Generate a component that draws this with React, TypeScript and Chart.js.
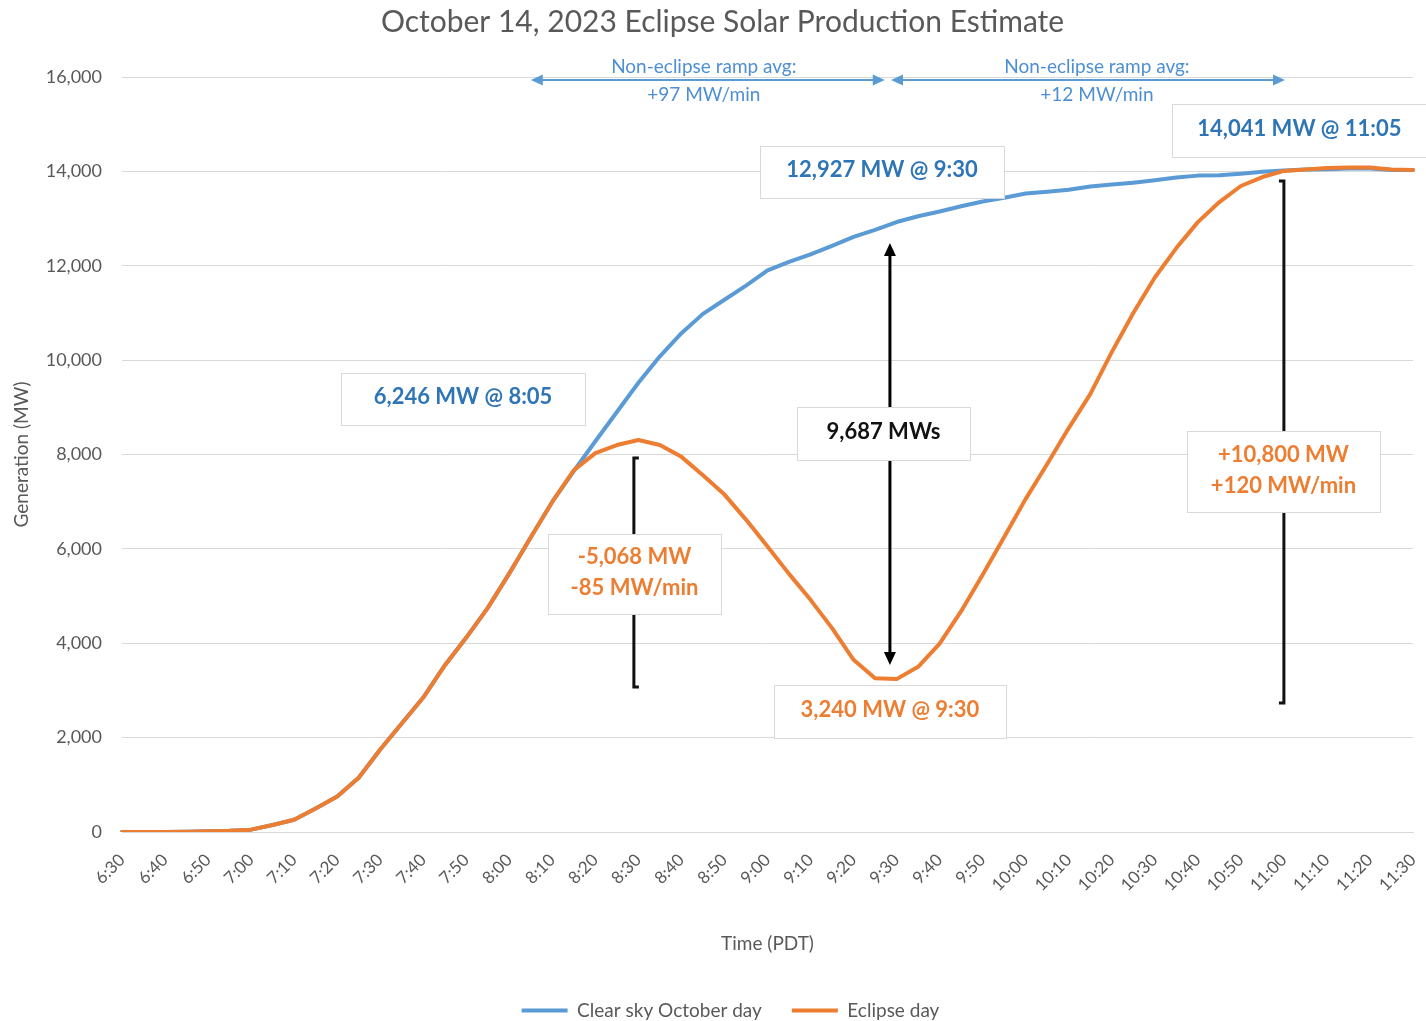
import React, { useEffect, useRef } from "react";
import { Chart, registerables } from "chart.js";

Chart.register(...registerables);

const FONT = "Lato, 'Open Sans', sans-serif";
const BLUE = "#5B9BD5";
const ORANGE = "#ED7D31";
const GREY_TEXT = "#595959";
const GRID = "#d9d9d9";

const timeLabels = [
  "6:30", "6:35", "6:40", "6:45", "6:50", "6:55",
  "7:00", "7:05", "7:10", "7:15", "7:20", "7:25",
  "7:30", "7:35", "7:40", "7:45", "7:50", "7:55",
  "8:00", "8:05", "8:10", "8:15", "8:20", "8:25",
  "8:30", "8:35", "8:40", "8:45", "8:50", "8:55",
  "9:00", "9:05", "9:10", "9:15", "9:20", "9:25",
  "9:30", "9:35", "9:40", "9:45", "9:50", "9:55",
  "10:00", "10:05", "10:10", "10:15", "10:20", "10:25",
  "10:30", "10:35", "10:40", "10:45", "10:50", "10:55",
  "11:00", "11:05", "11:10", "11:15", "11:20", "11:25",
  "11:30",
];

const clearSkyMW = [
  0, 0, 0, 5, 15, 25,
  50, 150, 260, 500, 750, 1150,
  1750, 2300, 2850, 3530, 4120, 4750,
  5480, 6246, 7000, 7650, 8280, 8900,
  9520, 10080, 10570, 10980, 11280, 11580,
  11900, 12080, 12240, 12420, 12610, 12760,
  12927, 13050, 13150, 13260, 13360, 13440,
  13530, 13570, 13610, 13680, 13720, 13760,
  13810, 13870, 13910, 13920, 13950, 13990,
  14020, 14041, 14045, 14060, 14060, 14030,
  14030,
];

const eclipseMW = [
  0, 0, 0, 5, 15, 25,
  50, 150, 260, 500, 750, 1150,
  1750, 2300, 2850, 3530, 4120, 4750,
  5480, 6246, 7000, 7670, 8030, 8200,
  8308, 8200, 7950, 7560, 7150, 6620,
  6050, 5470, 4920, 4320, 3650, 3260,
  3240, 3500, 3990, 4680, 5450, 6250,
  7060, 7800, 8560, 9280, 10170, 11000,
  11750, 12375, 12925, 13350, 13690, 13880,
  14010, 14041, 14070, 14080, 14080, 14040,
  14030,
];

const yTickValues = [0, 2000, 4000, 6000, 8000, 10000, 12000, 14000, 16000];

// Annotations positioned in data space: x = category index (fractional), y = MW
const calloutBoxes = [
  { lines: ["6,246 MW @ 8:05"], x: 15.85, y: 9176, w: 244, h: 52, color: "#2E75B6" },
  { lines: ["12,927 MW @ 9:30"], x: 35.32, y: 13987, w: 244, h: 52, color: "#2E75B6" },
  { lines: ["14,041 MW @ 11:05"], x: 54.72, y: 14866, w: 254, h: 53, color: "#2E75B6" },
  { lines: ["9,687 MWs"], x: 35.39, y: 8445, w: 173, h: 53, color: "#111111" },
  { lines: ["-5,068 MW", "-85 MW/min"], x: 23.82, y: 5467, w: 173, h: 80, color: ORANGE },
  { lines: ["3,240 MW @ 9:30"], x: 35.69, y: 2554, w: 232, h: 53, color: ORANGE },
  { lines: ["+10,800 MW", "+120 MW/min"], x: 53.98, y: 7640, w: 193, h: 81, color: ORANGE },
];

const rampNotes = [
  { lines: ["Non-eclipse ramp avg:", "+97 MW/min"], xText: 27.04, x0: 19.0, x1: 35.45, y: 15936 },
  { lines: ["Non-eclipse ramp avg:", "+12 MW/min"], xText: 45.31, x0: 35.74, x1: 54.05, y: 15936 },
];

const gapArrow = { x: 35.69, yTop: 12482, yBottom: 3539 };

const brackets = [
  { x: 23.79, yTop: 7926, yBottom: 3073, hook: 1 },
  { x: 54.0, yTop: 13796, yBottom: 2734, hook: -1 },
];

function drawHead(ctx: CanvasRenderingContext2D, tx: number, ty: number, dx: number, dy: number, len: number, half: number) {
  const bx = tx - dx * len;
  const by = ty - dy * len;
  const nx = -dy;
  const ny = dx;
  ctx.beginPath();
  ctx.moveTo(tx, ty);
  ctx.lineTo(bx + nx * half, by + ny * half);
  ctx.lineTo(bx - nx * half, by - ny * half);
  ctx.closePath();
  ctx.fill();
}

const notesPlugin = {
  id: "eclipseNotes",
  afterLayout(chart: any) {
    // nudge the centred legend and title to the reference's horizontal position
    if (chart.legend) {
      chart.legend.left += 24;
      chart.legend.right += 24;
    }
    if (chart.titleBlock) {
      chart.titleBlock.left += 16;
      chart.titleBlock.right += 16;
    }
  },
  afterDatasetsDraw(chart: any) {
    const { ctx } = chart;
    const xs = chart.scales.x;
    const ys = chart.scales.y;
    const px = (v: number) => xs.getPixelForValue(v);
    const py = (v: number) => ys.getPixelForValue(v);
    ctx.save();

    for (const r of rampNotes) {
      const yy = py(r.y);
      const a = px(r.x0);
      const b = px(r.x1);
      ctx.strokeStyle = BLUE;
      ctx.fillStyle = BLUE;
      ctx.lineWidth = 2;
      ctx.beginPath();
      ctx.moveTo(a + 8, yy);
      ctx.lineTo(b - 8, yy);
      ctx.stroke();
      drawHead(ctx, a, yy, -1, 0, 12, 5.5);
      drawHead(ctx, b, yy, 1, 0, 12, 5.5);
      ctx.fillStyle = "#4E8FD4";
      ctx.font = `19px ${FONT}`;
      ctx.textAlign = "center";
      ctx.textBaseline = "middle";
      ctx.fillText(r.lines[0], px(r.xText), yy - 13);
      ctx.fillText(r.lines[1], px(r.xText), yy + 15);
    }

    {
      const xx = px(gapArrow.x);
      const t = py(gapArrow.yTop);
      const bt = py(gapArrow.yBottom);
      ctx.strokeStyle = "#000";
      ctx.fillStyle = "#000";
      ctx.lineWidth = 3;
      ctx.beginPath();
      ctx.moveTo(xx, t + 10);
      ctx.lineTo(xx, bt - 10);
      ctx.stroke();
      drawHead(ctx, xx, t, 0, -1, 13, 6);
      drawHead(ctx, xx, bt, 0, 1, 13, 6);
    }

    for (const br of brackets) {
      const xx = px(br.x);
      const t = py(br.yTop);
      const bt = py(br.yBottom);
      ctx.strokeStyle = "#111";
      ctx.lineWidth = 3;
      ctx.lineJoin = "miter";
      ctx.beginPath();
      ctx.moveTo(xx + br.hook * 5, t);
      ctx.lineTo(xx, t);
      ctx.lineTo(xx, bt);
      ctx.lineTo(xx + br.hook * 5, bt);
      ctx.stroke();
    }

    for (const bx of calloutBoxes) {
      const cx = px(bx.x);
      const cy = py(bx.y);
      const left = Math.round(cx - bx.w / 2) + 0.5;
      const top = Math.round(cy - bx.h / 2) + 0.5;
      ctx.fillStyle = "#ffffff";
      ctx.fillRect(left, top, bx.w, bx.h);
      ctx.strokeStyle = GRID;
      ctx.lineWidth = 1;
      ctx.strokeRect(left, top, bx.w, bx.h);
      ctx.fillStyle = bx.color;
      ctx.font = `bold 22px ${FONT}`;
      ctx.textAlign = "center";
      ctx.textBaseline = "middle";
      if (bx.lines.length === 1) {
        ctx.fillText(bx.lines[0], cx, cy - 2);
      } else {
        ctx.fillText(bx.lines[0], cx, cy - 17);
        ctx.fillText(bx.lines[1], cx, cy + 14);
      }
    }
    ctx.restore();
  },
};

export default function App() {
  const canvasRef = useRef<HTMLCanvasElement | null>(null);

  useEffect(() => {
    document.body.style.margin = "0";
    const canvas = canvasRef.current;
    if (!canvas) return;
    const chart = new Chart(canvas, {
      type: "line",
      data: {
        labels: timeLabels,
        datasets: [
          {
            label: "Clear sky October day",
            data: clearSkyMW,
            borderColor: BLUE,
            backgroundColor: BLUE,
            borderWidth: 4,
            pointRadius: 0,
            tension: 0,
            borderCapStyle: "round",
            borderJoinStyle: "round",
            order: 1,
          },
          {
            label: "Eclipse day",
            data: eclipseMW,
            borderColor: ORANGE,
            backgroundColor: ORANGE,
            borderWidth: 4,
            pointRadius: 0,
            tension: 0,
            borderCapStyle: "round",
            borderJoinStyle: "round",
            order: 0,
          },
        ],
      },
      options: {
        animation: false,
        responsive: false,
        maintainAspectRatio: false,
        layout: { padding: { left: 0, right: 13, top: 0, bottom: 0 } },
        plugins: {
          title: {
            display: true,
            text: "October 14, 2023 Eclipse Solar Production Estimate",
            color: GREY_TEXT,
            font: { family: FONT, size: 30, weight: "normal" },
            padding: { top: 4, bottom: 37 },
          },
          legend: {
            display: true,
            position: "bottom",
            maxHeight: 50,
            labels: {
              usePointStyle: true,
              pointStyle: "line",
              pointStyleWidth: 46,
              padding: 30,
              color: GREY_TEXT,
              font: { family: FONT, size: 19 },
              sort: (a: any, b: any) => a.datasetIndex - b.datasetIndex,
            },
          },
          tooltip: { enabled: false },
        },
        scales: {
          x: {
            type: "category",
            offset: false,
            grid: { display: false, drawTicks: false },
            border: { display: true, color: GRID, width: 1 },
            ticks: {
              autoSkip: false,
              maxRotation: 45,
              minRotation: 45,
              padding: 18,
              color: GREY_TEXT,
              font: { family: FONT, size: 17 },
              callback: (_v: any, i: number) => (i % 2 === 0 ? timeLabels[i] : ""),
            },
            title: {
              display: true,
              text: "Time (PDT)",
              color: GREY_TEXT,
              font: { family: FONT, size: 19 },
              padding: { top: 0, bottom: 15.6 },
            },
            afterFit: (s: any) => {
              s.height = 139;
              s.paddingLeft = 0;
              s.paddingRight = 0;
            },
          },
          y: {
            min: 0,
            max: 16000,
            afterBuildTicks: (s: any) => {
              s.ticks = yTickValues.map((v) => ({ value: v }));
            },
            grid: { color: GRID, lineWidth: 1, drawTicks: false },
            border: { display: false },
            ticks: {
              padding: 20,
              color: GREY_TEXT,
              font: { family: FONT, size: 18 },
              callback: (v: any) => Number(v).toLocaleString("en-US"),
            },
            title: {
              display: true,
              text: "Generation (MW)",
              color: GREY_TEXT,
              font: { family: FONT, size: 19 },
              padding: { top: 10.6, bottom: 0 },
            },
            afterFit: (s: any) => {
              s.width = 122;
            },
          },
        },
      },
      plugins: [notesPlugin],
    } as any);
    return () => chart.destroy();
  }, []);

  return (
    <div style={{ width: 1426, height: 1021 }}>
      <canvas ref={canvasRef} width={1426} height={1021} style={{ display: "block" }} />
    </div>
  );
}
